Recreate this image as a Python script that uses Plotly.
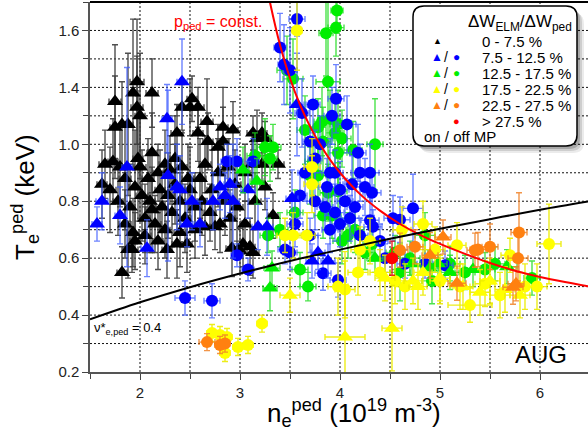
import plotly.graph_objects as go

# Pedestal electron density (1e19 m^-3), temperature (keV) and their errors.
# Each entry: (n_e, T_e, dn_e, dT_e)
on_mp_0_75 = [
    (1.65, 0.93, 0.06, 0.12), (1.73, 0.94, 0.05, 0.15), (1.75, 1.15, 0.06, 0.20), (1.75, 1.06, 0.05, 0.18),
    (1.82, 1.07, 0.06, 0.15), (1.88, 1.07, 0.05, 0.25), (1.97, 1.22, 0.07, 0.22), (1.93, 1.18, 0.05, 0.26),
    (1.97, 1.13, 0.06, 0.18), (2.00, 1.10, 0.05, 0.22), (2.12, 1.18, 0.06, 0.12), (2.18, 0.90, 0.05, 0.10),
    (2.30, 0.91, 0.06, 0.12), (2.35, 0.95, 0.05, 0.15), (2.37, 1.04, 0.06, 0.10), (2.42, 1.13, 0.05, 0.08),
    (2.50, 1.13, 0.06, 0.10), (2.52, 1.16, 0.05, 0.08), (2.58, 1.13, 0.06, 0.07), (2.58, 1.04, 0.05, 0.10),
    (2.67, 1.08, 0.06, 0.15), (2.68, 1.01, 0.05, 0.10), (2.78, 0.99, 0.06, 0.08), (2.83, 1.06, 0.05, 0.14),
    (2.83, 1.01, 0.06, 0.12), (2.93, 1.05, 0.05, 0.10), (3.13, 1.04, 0.06, 0.06), (3.17, 1.02, 0.05, 0.10),
    (3.25, 1.02, 0.06, 0.06), (3.12, 0.93, 0.05, 0.08), (3.38, 0.93, 0.06, 0.05), (3.22, 1.04, 0.05, 0.07),
    (3.22, 0.93, 0.06, 0.06), (3.33, 0.75, 0.05, 0.08),
    (1.82, 0.55, 0.05, 0.09), (1.93, 0.69, 0.06, 0.12), (1.88, 0.63, 0.05, 0.10), (1.92, 0.63, 0.06, 0.08),
    (2.27, 0.63, 0.05, 0.10), (2.12, 0.77, 0.06, 0.15), (2.47, 0.65, 0.05, 0.10), (2.40, 0.69, 0.06, 0.12),
    (2.75, 0.71, 0.05, 0.08), (3.03, 0.65, 0.06, 0.08), (3.10, 0.64, 0.05, 0.10), (2.97, 0.78, 0.06, 0.12),
    (2.37, 0.65, 0.05, 0.12), (2.92, 0.635, 0.06, 0.10), (3.00, 0.625, 0.05, 0.08), (3.13, 0.62, 0.06, 0.09),
    (2.65, 0.71, 0.05, 0.10),
    (1.62, 0.86, 0.05, 0.12), (1.70, 0.84, 0.06, 0.15), (1.78, 0.80, 0.05, 0.12), (1.85, 0.88, 0.06, 0.18),
    (1.90, 0.78, 0.05, 0.15), (1.95, 0.85, 0.06, 0.20), (1.98, 0.95, 0.05, 0.22), (2.02, 0.82, 0.06, 0.16),
    (2.05, 0.74, 0.05, 0.12), (2.08, 0.88, 0.06, 0.14), (2.10, 0.80, 0.05, 0.18), (2.15, 0.72, 0.06, 0.10),
    (2.20, 0.84, 0.05, 0.14), (2.22, 0.78, 0.06, 0.12), (2.25, 0.70, 0.05, 0.10), (2.28, 0.82, 0.06, 0.15),
    (2.32, 0.76, 0.05, 0.12), (2.35, 0.86, 0.06, 0.14), (2.40, 0.80, 0.05, 0.10), (2.45, 0.74, 0.06, 0.12),
    (2.50, 0.84, 0.05, 0.15), (2.55, 0.78, 0.06, 0.12), (2.55, 0.70, 0.05, 0.10), (2.60, 0.88, 0.06, 0.14),
    (2.62, 0.80, 0.05, 0.12), (2.70, 0.76, 0.06, 0.10), (2.72, 0.84, 0.05, 0.14), (2.78, 0.90, 0.06, 0.12),
    (2.80, 0.72, 0.05, 0.10), (2.85, 0.80, 0.06, 0.12), (2.88, 0.92, 0.05, 0.10), (2.95, 0.86, 0.06, 0.12),
    (3.05, 0.90, 0.05, 0.10), (3.15, 0.80, 0.06, 0.10), (3.25, 0.85, 0.05, 0.08), (1.85, 0.72, 0.06, 0.12),
    (1.95, 0.66, 0.05, 0.10), (2.00, 0.92, 0.06, 0.18), (2.12, 0.97, 0.05, 0.14), (2.25, 0.93, 0.06, 0.12),
    (2.42, 0.92, 0.05, 0.12), (2.65, 0.93, 0.06, 0.10), (3.05, 0.72, 0.05, 0.08), (1.80, 0.92, 0.05, 0.14),
    (2.05, 0.68, 0.06, 0.10), (2.18, 0.66, 0.05, 0.10), (2.48, 0.88, 0.06, 0.12), (2.90, 0.74, 0.05, 0.10),
]

on_mp_75_125 = [
    (2.42, 1.22, 0.05, 0.15), (2.27, 1.09, 0.05, 0.12), (1.87, 0.92, 0.05, 0.35), (2.28, 0.89, 0.05, 0.30),
    (2.37, 0.85, 0.06, 0.15), (2.80, 0.85, 0.06, 0.08), (2.85, 0.82, 0.07, 0.08), (2.90, 0.86, 0.06, 0.10),
    (2.93, 0.80, 0.06, 0.20), (3.08, 0.84, 0.07, 0.10), (1.62, 0.80, 0.06, 0.10), (1.57, 0.72, 0.05, 0.06),
    (1.80, 0.75, 0.05, 0.10), (2.07, 0.635, 0.06, 0.10), (2.40, 0.84, 0.06, 0.12), (2.52, 0.80, 0.06, 0.10),
    (2.47, 0.72, 0.06, 0.08), (2.73, 0.80, 0.06, 0.10), (2.60, 0.72, 0.05, 0.08), (3.27, 0.71, 0.06, 0.10),
    (3.57, 1.14, 0.07, 0.18), (3.52, 0.81, 0.06, 0.10), (3.18, 0.71, 0.06, 0.08), (3.78, 0.62, 0.07, 0.06),
    (3.88, 0.59, 0.07, 0.06), (3.72, 0.59, 0.06, 0.06),
]

off_mp_75_125 = [
    (2.97, 0.61, 0.06, 0.04), (3.08, 0.56, 0.06, 0.04), (2.45, 0.46, 0.10, 0.06), (2.72, 0.45, 0.08, 0.06),
    (2.87, 0.94, 0.06, 0.06), (2.97, 0.94, 0.06, 0.08), (3.13, 0.94, 0.06, 0.08), (3.57, 1.44, 0.08, 0.06),
    (3.40, 1.34, 0.06, 0.12), (3.44, 1.28, 0.06, 0.14), (3.50, 1.26, 0.07, 0.15), (3.96, 1.16, 0.08, 0.12),
    (3.73, 1.14, 0.07, 0.10), (3.62, 1.11, 0.07, 0.12), (3.92, 1.10, 0.08, 0.10), (4.07, 1.07, 0.09, 0.10),
    (3.70, 1.01, 0.07, 0.12), (3.80, 1.00, 0.08, 0.10), (4.18, 0.97, 0.08, 0.10), (3.90, 0.90, 0.08, 0.12),
    (4.20, 0.90, 0.09, 0.10), (3.87, 0.85, 0.08, 0.10), (4.00, 0.84, 0.09, 0.10), (4.32, 0.83, 0.09, 0.08),
    (4.73, 0.775, 0.10, 0.12), (3.95, 0.90, 0.08, 0.08), (4.30, 0.90, 0.09, 0.10), (3.75, 0.80, 0.08, 0.10),
    (3.85, 0.78, 0.08, 0.08), (3.95, 0.76, 0.09, 0.10), (4.05, 0.80, 0.08, 0.08), (4.10, 0.74, 0.09, 0.08),
    (4.15, 0.78, 0.08, 0.10), (4.00, 0.72, 0.09, 0.08), (4.53, 0.74, 0.09, 0.08), (4.60, 0.735, 0.10, 0.08),
    (4.30, 0.733, 0.09, 0.08), (4.33, 0.71, 0.09, 0.06), (3.83, 0.547, 0.08, 0.06), (3.50, 0.62, 0.07, 0.06),
    (3.45, 0.63, 0.07, 0.05), (3.98, 0.523, 0.08, 0.06), (5.05, 0.575, 0.08, 0.05), (3.65, 0.90, 0.07, 0.10),
    (3.60, 0.82, 0.07, 0.08), (3.70, 0.68, 0.08, 0.06), (4.40, 0.66, 0.08, 0.06), (4.45, 0.60, 0.08, 0.05),
    (4.65, 0.58, 0.08, 0.05), (4.85, 0.58, 0.08, 0.05), (3.55, 0.72, 0.08, 0.08), (4.25, 0.85, 0.09, 0.10),
    (3.75, 0.95, 0.07, 0.10), (4.12, 0.86, 0.09, 0.10), (3.90, 0.70, 0.08, 0.08), (4.20, 0.68, 0.08, 0.06),
]

on_mp_125_175 = [
    (3.03, 0.91, 0.06, 0.08), (3.17, 0.87, 0.07, 0.08), (3.30, 0.495, 0.07, 0.08), (3.32, 0.565, 0.08, 0.06),
    (4.72, 0.58, 0.08, 0.06), (4.90, 0.565, 0.09, 0.06), (4.98, 0.58, 0.09, 0.06), (5.33, 0.56, 0.09, 0.06),
    (5.67, 0.57, 0.10, 0.06), (4.35, 0.60, 0.08, 0.05), (5.10, 0.55, 0.09, 0.06),
]

off_mp_125_175 = [
    (3.15, 0.96, 0.08, 0.08), (3.25, 0.99, 0.08, 0.10), (3.33, 0.99, 0.08, 0.08), (3.30, 0.95, 0.07, 0.08),
    (3.97, 1.47, 0.06, 0.08), (3.96, 1.41, 0.08, 0.10), (3.86, 1.39, 0.07, 0.15), (3.47, 1.26, 0.10, 0.12),
    (3.53, 1.23, 0.10, 0.14), (3.88, 1.22, 0.12, 0.30), (3.82, 1.08, 0.08, 0.12), (3.78, 1.06, 0.08, 0.10),
    (3.98, 1.07, 0.08, 0.12), (3.90, 1.09, 0.08, 0.10), (3.95, 1.04, 0.09, 0.12), (3.65, 1.05, 0.08, 0.12),
    (3.83, 1.01, 0.08, 0.12), (4.02, 1.02, 0.09, 0.10), (4.35, 1.00, 0.08, 0.16), (4.13, 0.98, 0.09, 0.10),
    (3.98, 0.97, 0.09, 0.12), (3.73, 0.94, 0.08, 0.12), (3.70, 0.89, 0.08, 0.10), (3.78, 0.89, 0.08, 0.10),
    (3.98, 0.835, 0.09, 0.10), (3.92, 0.75, 0.09, 0.08), (3.88, 0.83, 0.08, 0.10), (3.83, 0.75, 0.09, 0.08),
    (4.15, 0.70, 0.09, 0.08), (4.02, 0.66, 0.09, 0.08), (4.08, 0.68, 0.08, 0.08), (4.32, 0.65, 0.09, 0.06),
    (4.85, 0.68, 0.10, 0.08), (5.92, 0.53, 0.08, 0.06), (3.60, 0.56, 0.08, 0.06), (3.68, 0.50, 0.08, 0.05),
    (3.28, 0.68, 0.08, 0.06), (4.55, 0.62, 0.09, 0.06), (4.70, 0.60, 0.10, 0.06), (5.10, 0.58, 0.10, 0.06),
    (5.25, 0.55, 0.10, 0.06), (5.45, 0.56, 0.10, 0.06), (5.55, 0.58, 0.10, 0.06), (4.25, 0.62, 0.09, 0.06),
    (3.55, 0.76, 0.08, 0.08), (3.40, 0.70, 0.08, 0.06), (4.92, 0.52, 0.10, 0.08), (4.60, 0.55, 0.10, 0.10),
]

on_mp_175_225 = [
    (3.50, 0.47, 0.10, 0.06), (4.05, 0.323, 0.20, 0.30), (4.52, 0.354, 0.10, 0.15), (4.73, 0.52, 0.09, 0.08),
    (4.83, 0.55, 0.09, 0.08), (4.78, 0.50, 0.09, 0.08), (5.23, 0.50, 0.10, 0.08), (5.40, 0.48, 0.10, 0.08),
    (5.65, 0.49, 0.10, 0.08), (5.50, 0.52, 0.10, 0.08), (4.45, 0.53, 0.10, 0.08), (5.00, 0.53, 0.10, 0.08),
    (5.80, 0.47, 0.10, 0.08),
]

off_mp_175_225 = [
    (3.57, 1.40, 0.05, 0.14), (3.72, 0.92, 0.08, 0.10), (3.72, 0.86, 0.08, 0.10), (3.53, 0.68, 0.08, 0.08),
    (3.67, 0.68, 0.08, 0.08), (3.45, 0.68, 0.08, 0.06), (4.62, 0.70, 0.09, 0.08), (4.83, 0.72, 0.09, 0.08),
    (4.20, 0.63, 0.09, 0.08), (4.18, 0.55, 0.10, 0.08), (3.98, 0.50, 0.10, 0.10), (4.05, 0.49, 0.10, 0.10),
    (5.17, 0.645, 0.09, 0.08), (5.70, 0.61, 0.09, 0.06), (6.09, 0.65, 0.12, 0.14), (5.30, 0.435, 0.22, 0.06),
    (5.97, 0.50, 0.10, 0.08), (3.22, 0.37, 0.05, 0.03), (3.08, 0.295, 0.05, 0.03), (2.72, 0.337, 0.05, 0.03),
    (2.87, 0.323, 0.05, 0.03), (2.98, 0.288, 0.05, 0.03), (2.85, 0.267, 0.05, 0.03), (2.80, 0.33, 0.05, 0.03),
    (4.40, 0.55, 0.10, 0.08), (4.55, 0.52, 0.10, 0.08), (4.65, 0.50, 0.10, 0.08), (5.00, 0.52, 0.10, 0.08),
    (5.20, 0.50, 0.10, 0.08), (5.45, 0.51, 0.10, 0.08), (5.60, 0.47, 0.10, 0.08), (5.85, 0.50, 0.10, 0.08),
    (4.95, 0.63, 0.10, 0.08), (4.30, 0.66, 0.10, 0.08),
]

on_mp_225_275 = [
    (4.90, 0.61, 0.08, 0.08), (5.03, 0.674, 0.08, 0.06), (5.17, 0.512, 0.09, 0.06), (5.73, 0.498, 0.10, 0.06),
    (5.76, 0.51, 0.08, 0.06),
]

off_mp_225_275 = [
    (2.67, 0.305, 0.08, 0.03), (2.80, 0.295, 0.05, 0.03), (2.85, 0.30, 0.05, 0.03), (4.60, 0.628, 0.08, 0.06),
    (5.35, 0.628, 0.08, 0.06), (5.38, 0.63, 0.08, 0.06), (5.50, 0.64, 0.08, 0.08), (5.79, 0.69, 0.08, 0.14),
    (5.78, 0.60, 0.10, 0.08), (4.75, 0.64, 0.08, 0.06),
]

off_mp_above_275 = [
    (4.52, 0.60, 0.05, 0.06),
]

# Reference curves: constant pedestal pressure and collisionality nu* = 0.4
p_const_n = [3.28, 3.30, 3.40, 3.50, 3.60, 3.70, 3.80, 3.90, 4.00, 4.20, 4.40, 4.60, 4.80, 5.00, 5.25, 5.50, 5.75, 6.00, 6.25, 6.50]
p_const_T = [1.533, 1.498, 1.349, 1.232, 1.139, 1.063, 1.000, 0.946, 0.900, 0.825, 0.767, 0.720, 0.682, 0.650, 0.615, 0.583, 0.556, 0.534, 0.516, 0.500]
nu_n = [1.5, 2.0, 2.5, 3.0, 3.5, 4.0, 4.5, 5.0, 5.5, 6.0, 6.5]
nu_T = [0.385, 0.445, 0.498, 0.546, 0.590, 0.630, 0.668, 0.703, 0.737, 0.770, 0.800]

# Axis ticks
x_tickvals = [2, 3, 4, 5, 6]
x_ticktext = ["2", "3", "4", "5", "6"]
y_tickvals = [0.2, 0.4, 0.6, 0.8, 1.0, 1.2, 1.4]
y_ticktext = ["0.2", "0.4", "0.6", "0.8", "1.0", "1.4", "1.6"]
x_gridvals = [2.0, 2.5, 3.0, 3.5, 4.0, 4.5, 5.0, 5.5, 6.0]
y_gridvals = [0.3, 0.4, 0.5, 0.6, 0.7, 0.8, 0.9, 1.0, 1.1, 1.2, 1.3, 1.4]

# Legend rows
legend_labels = ["0 - 7.5 %", "7.5 - 12.5 %", "12.5 - 17.5 %", "17.5 - 22.5 %", "22.5 - 27.5 %", "> 27.5 %"]

BLACK = "#000000"
BLUE = "#0000ff"
GREEN = "#00ee00"
YELLOW = "#ffff00"
ORANGE = "#ff8010"
RED = "#ff0000"

ERR = {
    BLACK: "rgba(60,60,60,0.9)",
    BLUE: "rgba(60,90,255,0.75)",
    GREEN: "rgba(30,220,30,0.8)",
    YELLOW: "rgba(235,235,0,0.9)",
    ORANGE: "rgba(240,130,40,0.85)",
    RED: "rgba(230,0,0,0.85)",
}

FONT = "Liberation Sans, Arial, Helvetica, sans-serif"

W, H = 588, 431
ML, MR, MT, MB = 90, 0, 2, 59
PW, PH = W - ML - MR, H - MT - MB


def px(x):
    return (x - ML) / PW


def py(y):
    return (H - MB - y) / PH


fig = go.Figure()

shapes = []
# dotted grid drawn beneath the data
for gx in x_gridvals:
    shapes.append(dict(type="line", xref="x", yref="paper", x0=gx, x1=gx, y0=0, y1=1,
                       line=dict(color="#111", width=1, dash="2px,2px"), layer="below"))
for gy in y_gridvals:
    shapes.append(dict(type="line", xref="paper", yref="y", x0=0, x1=1, y0=gy, y1=gy,
                       line=dict(color="#111", width=1, dash="2px,2px"), layer="below"))


def add_group(rows, color, symbol):
    n = [r[0] for r in rows]
    t = [r[1] for r in rows]
    dn = [r[2] for r in rows]
    dt = [r[3] for r in rows]
    size = 14 if symbol == "triangle-up" else 12
    fig.add_trace(go.Scatter(
        x=n, y=t, mode="markers",
        marker=dict(symbol=symbol, size=size, color=color, line=dict(width=0)),
        error_x=dict(type="data", array=dn, color=ERR[color], thickness=1.4, width=3),
        error_y=dict(type="data", array=dt, color=ERR[color], thickness=1.4, width=3),
        showlegend=False, cliponaxis=True,
    ))


add_group(on_mp_0_75, BLACK, "triangle-up")
add_group(off_mp_125_175, GREEN, "circle")
add_group(off_mp_75_125, BLUE, "circle")
add_group(on_mp_75_125, BLUE, "triangle-up")
add_group(on_mp_125_175, GREEN, "triangle-up")
add_group(off_mp_175_225, YELLOW, "circle")
add_group(on_mp_175_225, YELLOW, "triangle-up")
add_group(off_mp_225_275, ORANGE, "circle")
add_group(on_mp_225_275, ORANGE, "triangle-up")
add_group(off_mp_above_275, RED, "circle")

fig.add_trace(go.Scatter(x=p_const_n, y=p_const_T, mode="lines", line=dict(color=RED, width=2, shape="spline"),
                         showlegend=False))
fig.add_trace(go.Scatter(x=nu_n, y=nu_T, mode="lines", line=dict(color=BLACK, width=2, shape="spline"),
                         showlegend=False))

fig.update_xaxes(
    range=[1.5, 6.48], tickmode="array", tickvals=x_tickvals, ticktext=x_ticktext,
    ticks="outside", ticklen=6, tickwidth=1.2, tickcolor="#444",
    showline=True, linecolor="#555", linewidth=1.5, mirror=False, showgrid=False,
    zeroline=False, tickfont=dict(family=FONT, size=15, color="#222"),
    minor=dict(tickmode="linear", tick0=1.5, dtick=0.5, ticks="outside", ticklen=5, tickcolor="#444", showgrid=False),
)
fig.update_yaxes(
    range=[0.2, 1.5], tickmode="array", tickvals=y_tickvals, ticktext=y_ticktext,
    ticks="outside", ticklen=6, tickwidth=1.2, tickcolor="#444",
    showline=True, linecolor="#555", linewidth=1.5, mirror=False, showgrid=False,
    zeroline=False, tickfont=dict(family=FONT, size=15, color="#222"),
    minor=dict(tickmode="linear", tick0=0.2, dtick=0.1, ticks="outside", ticklen=5, tickcolor="#444", showgrid=False),
)

# top frame line
shapes.append(dict(type="line", xref="paper", yref="paper", x0=0, x1=1, y0=1, y1=1,
                   line=dict(color="black", width=2)))


def rounded(x0, y0, x1, y1, r):
    # pixel box -> paper path with rounded corners
    rx, ry = r / PW, r / PH
    a, b, c, d = px(x0), py(y1), px(x1), py(y0)  # left, bottom, right, top
    return (f"M {a+rx},{d} L {c-rx},{d} Q {c},{d} {c},{d-ry} L {c},{b+ry} Q {c},{b} {c-rx},{b} "
            f"L {a+rx},{b} Q {a},{b} {a},{b+ry} L {a},{d-ry} Q {a},{d} {a+rx},{d} Z")


# legend shadow and box
for off, op in [(7, 0.08), (5, 0.12), (3, 0.18)]:
    shapes.append(dict(type="path", xref="paper", yref="paper",
                       path=rounded(413 + off, 6 + off, 577 + off, 146 + off, 11),
                       fillcolor=f"rgba(0,0,0,{op})", line=dict(width=0), layer="above"))
shapes.append(dict(type="path", xref="paper", yref="paper", path=rounded(413, 6, 577, 146, 11),
                   fillcolor="white", line=dict(color="black", width=1.5), layer="above"))

ann = []


def text(x, y, s, size=15, color="black", xanchor="left"):
    ann.append(dict(x=px(x), y=py(y), xref="paper", yref="paper", text=s, showarrow=False,
                    xanchor=xanchor, yanchor="middle",
                    font=dict(family=FONT, size=size, color=color)))


text(520, 23, "ΔW<sub>ELM</sub>/ΔW<sub>ped</sub>", size=17, xanchor="center")
row_y = [41, 57, 73, 89, 105, 121]
row_colors = [BLACK, BLUE, GREEN, YELLOW, ORANGE, RED]
for i, (lab, col, yy) in enumerate(zip(legend_labels, row_colors, row_y)):
    text(480, yy, lab, size=15)
    if i == 0:
        text(437, yy, "▲", size=9, color=col, xanchor="center")
    elif i == 5:
        text(456, yy, "●", size=11, color=col, xanchor="center")
    else:
        text(437, yy, "▲", size=12, color=col, xanchor="center")
        text(446, yy, "/", size=14, xanchor="center")
        text(456, yy, "●", size=12, color=col, xanchor="center")
text(422, 136, "on / off MP", size=15)

# curve labels
text(172, 23, "p<sub>ped</sub> = const.", size=16, color=RED)
text(92, 328, "ν*<sub>e,ped</sub> = 0.4", size=13)
text(541, 354, "AUG", size=24, xanchor="center")

# axis titles
text(354, 413, "n<sub>e</sub><sup>ped</sup> (10<sup>19</sup> m<sup>-3</sup>)", size=26, xanchor="center")
ann.append(dict(x=px(25), y=py(197), xref="paper", yref="paper",
                text="T<sub>e</sub><sup>ped</sup> (keV)", showarrow=False,
                xanchor="center", yanchor="middle", textangle=-90,
                font=dict(family=FONT, size=26, color="black")))

fig.update_layout(
    width=W, height=H, margin=dict(l=ML, r=MR, t=MT, b=MB, pad=0),
    plot_bgcolor="white", paper_bgcolor="white",
    shapes=shapes, annotations=ann, showlegend=False,
    font=dict(family=FONT),
)

fig.write_html("out.html")
